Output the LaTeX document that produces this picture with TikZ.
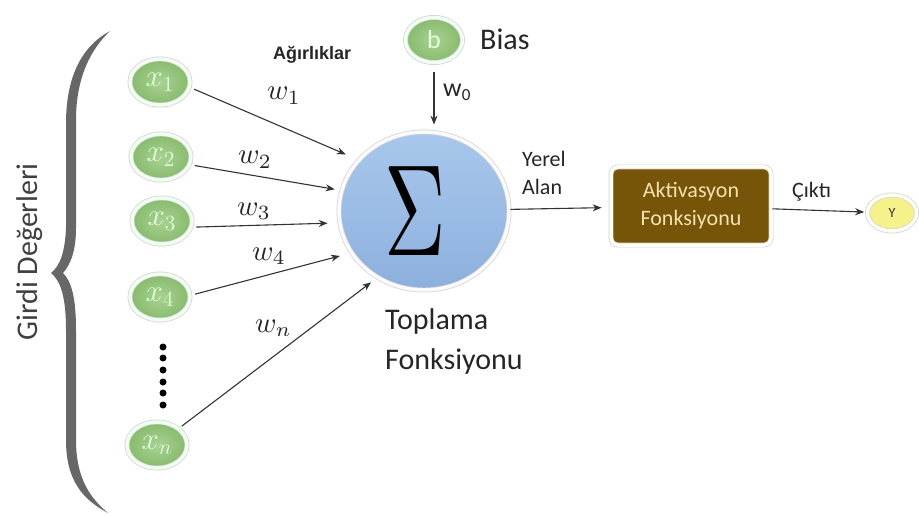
\documentclass[tikz,border=0pt]{standalone}
\usepackage{graphicx}
\usepackage{fontspec}
\setmainfont{Carlito}
\newfontfamily\arialf{Liberation Sans}
\usetikzlibrary{shapes.geometric,arrows.meta}
\definecolor{gin}{HTML}{A9D292}
\definecolor{gout}{HTML}{86BA6C}
\definecolor{sigin}{HTML}{A9C7EC}
\definecolor{sigout}{HTML}{8CB0DD}
\definecolor{brownbox}{HTML}{775508}
\definecolor{cream}{HTML}{F3E2B0}
\definecolor{yel}{HTML}{F5F28C}
\definecolor{bracec}{HTML}{676767}
\definecolor{txt}{HTML}{262626}
\definecolor{arr}{HTML}{333333}
\newcommand{\mymath}[2]{\scalebox{#1}{$#2$}}
\begin{document}
\begin{tikzpicture}[x=1pt,y=-1pt,
 ring/.style={draw=black!18, line width=0.7pt, double=white!85!#1, double distance=3.5pt},
 inp/.style={ellipse, inner sep=0pt, minimum width=60pt, minimum height=46pt, ring=green!40,
   inner color=gin, outer color=gout, text=white!88!green, font=\fontsize{20}{20}\selectfont},
 conn/.style={draw=arr, line width=1.1pt, -{Stealth[length=9pt,width=7pt]}},
 lbl/.style={inner sep=0pt, text=txt},
 wlbl/.style={lbl, anchor=base west},
]
\useasboundingbox (0,0) rectangle (919,516);
\fill[white] (0,0) rectangle (919,516);

% brace
\fill[bracec] (110,31) .. controls (86,44) and (67,70) .. (66,120) -- (66,228)
  .. controls (65,252) and (60,266) .. (51,273)
  .. controls (61,281) and (66,298) .. (66,330) -- (66,440)
  .. controls (66,482) and (84,500) .. (108,513)
  .. controls (90,498) and (76,478) .. (76,440) -- (76,330)
  .. controls (76,296) and (71,281) .. (63,273)
  .. controls (71,264) and (76,250) .. (76,228) -- (76,120)
  .. controls (76,76) and (92,48) .. (110,31) -- cycle;
\node[lbl, rotate=90, anchor=base, text=black!75, font=\fontsize{30}{30}\selectfont] (girdi) at (37,252) {Girdi Değerleri};

% inputs
\node[inp] (x1) at (160,82) {\mymath{1.5}{x_1}};
\node[inp] (x2) at (161,157) {\mymath{1.5}{x_2}};
\node[inp] (x3) at (162,221) {\mymath{1.5}{x_3}};
\node[inp] (x4) at (160,297) {\mymath{1.5}{x_4}};
\node[inp] (xn) at (157,445) {\mymath{1.5}{x_n}};
\foreach \yy in {347,358,370,382,393,405} \fill[black] (163,\yy) circle (3.5pt);

% bias
\node[inp, minimum width=57pt, minimum height=45pt, font=\fontsize{26}{26}\selectfont] (b) at (434,40) {b};
\node[lbl, anchor=base west, font=\fontsize{30}{30}\selectfont] (bias) at (480,50) {Bias};

% sum
\node[ellipse, inner sep=0pt, minimum width=170pt, minimum height=158pt, ring=blue!10,
  top color=sigin, bottom color=sigout] (sig) at (424,211) {\kern-18pt\scalebox{8.5}[13]{$\Sigma$}};
\node[lbl, anchor=north west, align=left, font=\fontsize{30}{40}\selectfont] (topl) at (385,308) {Toplama\\Fonksiyonu};

% activation
\node[rectangle, rounded corners=7pt, minimum width=160pt, minimum height=78pt, fill=brownbox,
  ring=yellow!20, text=cream, align=center, font=\fontsize{22}{28}\selectfont] (akt) at (691,206) {Aktivasyon\\Fonksiyonu};
\node[ellipse, inner sep=0pt, minimum width=49pt, minimum height=36pt, fill=yel, ring=yellow!30,
  text=black!80, font=\fontsize{14}{14}\selectfont] (yout) at (892,213) {Y};

% labels
\node[lbl, anchor=base west, font=\arialf\bfseries\fontsize{18}{18}\selectfont] (agr) at (273,60) {Ağırlıklar};
\node[wlbl] (w1) at (267,100) {\mymath{2.9}{w_1}};
\node[wlbl] (w2) at (238,164) {\mymath{2.9}{w_2}};
\node[wlbl] (w3) at (237,215) {\mymath{2.9}{w_3}};
\node[wlbl] (w4) at (252,260) {\mymath{2.9}{w_4}};
\node[wlbl] (wn) at (255,332) {\mymath{2.9}{w_n}};
\node[lbl, anchor=base west, font=\fontsize{26}{26}\selectfont] (w0) at (443,97) {w\raisebox{-4pt}{\fontsize{17}{17}\selectfont 0}};
\node[lbl, anchor=north west, align=left, font=\fontsize{22}{28}\selectfont] (yerel) at (522,151) {Yerel\\Alan};
\node[lbl, anchor=base west, font=\fontsize{22}{22}\selectfont] (cikti) at (792,197) {Çıktı};

% connectors
\draw[conn, shorten <=5pt, shorten >=14pt] (x1.-10) -- (sig.142);
\draw[conn, shorten <=5pt, shorten >=7pt] (x2.-15) -- (sig.166);
\draw[conn, shorten <=5pt, shorten >=12pt] (x3.-12) -- (sig.188);
\draw[conn, shorten <=5pt, shorten >=12pt] (x4.3) -- (sig.210);
\draw[conn, shorten <=4pt, shorten >=8pt] (xn) -- (sig.235);
\draw[conn, shorten <=9pt, shorten >=7pt] (b) -- (b |- sig.north);
\draw[conn, shorten <=1pt, shorten >=9pt] (sig) -- (akt);
\draw[conn, shorten <=1pt, shorten >=3pt] (akt) -- (yout);
\end{tikzpicture}
\end{document}
